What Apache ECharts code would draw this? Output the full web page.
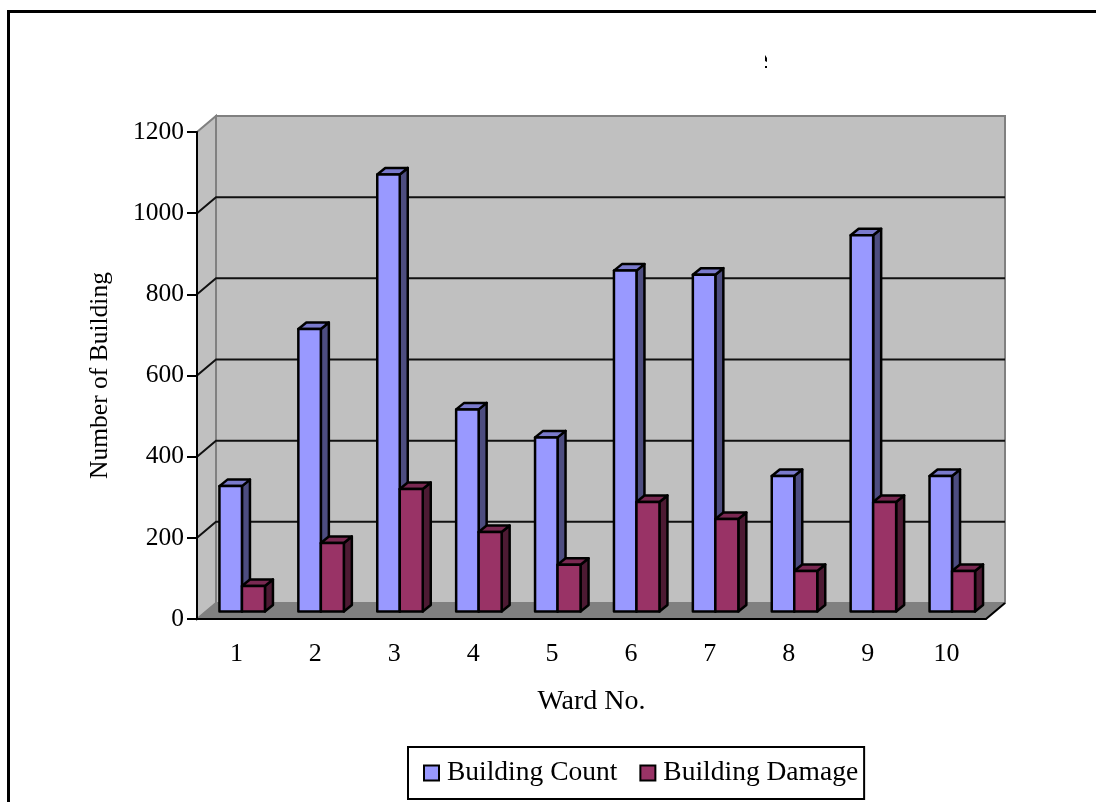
<!DOCTYPE html>
<html>
<head>
<meta charset="utf-8">
<style>
    html, body { margin: 0; padding: 0; background: #fff; }
    #main { width: 1096px; height: 802px; }
</style>
<script src="https://cdn.jsdelivr.net/npm/echarts@6/dist/echarts.min.js"></script>
</head>
<body>
<div id="main"></div>
<script>
var categories = ['1', '2', '3', '4', '5', '6', '7', '8', '9', '10'];
var buildingCount = [309, 696, 1077, 498, 429, 840, 830, 334, 927, 334];
var buildingDamage = [63, 169, 302, 196, 115, 270, 228, 100, 270, 100];
var wallTicks = [200, 400, 600, 800, 1000];

var fontName = '"Liberation Serif", "Times New Roman", serif';
// 墙面纵深
var wallDx = 19;
var wallDy = 16;
// 柱子纵深
var barDx = 8;
var barDy = 6.5;
var barLift = 7.5;

// 画一个立体柱子
function barItem(fromX, toX, front, side, top) {
    return function (params, api) {
        var center = api.coord([api.value(0), 0])[0];
        var base = api.coord([api.value(0), 0])[1] - barLift;
        var head = api.coord([api.value(0), api.value(1)])[1] - barLift;
        var x0 = center + fromX;
        var x1 = center + toX;
        var line = {stroke: '#000', lineWidth: 2.5, lineJoin: 'round'};
        return {
            type: 'group',
            children: [
                {
                    type: 'polygon',
                    shape: {points: [[x1, head], [x1 + barDx, head - barDy], [x1 + barDx, base - barDy], [x1, base]]},
                    style: Object.assign({fill: side}, line)
                },
                {
                    type: 'polygon',
                    shape: {points: [[x0, head], [x0 + barDx, head - barDy], [x1 + barDx, head - barDy], [x1, head]]},
                    style: Object.assign({fill: top}, line)
                },
                {
                    type: 'rect',
                    shape: {x: x0, y: head, width: x1 - x0, height: base - head},
                    style: Object.assign({fill: front}, line)
                }
            ]
        };
    };
}

// 背景墙和底面
function wallItem(params) {
    var g = params.coordSys;
    var right = g.x + g.width;
    var bottom = g.y + g.height;
    var edge = {stroke: '#808080', lineWidth: 2};
    return {
        type: 'group',
        children: [
            {
                type: 'polygon',
                shape: {points: [[g.x, g.y], [g.x + wallDx, g.y - wallDy], [g.x + wallDx, bottom - wallDy], [g.x, bottom]]},
                style: Object.assign({fill: '#c0c0c0'}, edge)
            },
            {
                type: 'rect',
                shape: {x: g.x + wallDx, y: g.y - wallDy, width: g.width, height: g.height},
                style: Object.assign({fill: '#c0c0c0'}, edge)
            },
            {
                type: 'polygon',
                shape: {points: [[g.x, bottom], [g.x + wallDx, bottom - wallDy], [right + wallDx, bottom - wallDy], [right, bottom]]},
                style: {fill: '#808080'}
            },
            {
                type: 'line',
                shape: {x1: right, y1: bottom, x2: right + wallDx, y2: bottom - wallDy},
                style: {stroke: '#000', lineWidth: 2}
            }
        ]
    };
}

// 网格线
function gridItem(params, api) {
    var g = params.coordSys;
    var y = api.coord([0, api.value(0)])[1];
    return {
        type: 'polyline',
        shape: {points: [[g.x, y], [g.x + wallDx, y - wallDy], [g.x + g.width + wallDx, y - wallDy]]},
        style: {fill: 'none', stroke: '#111', lineWidth: 2}
    };
}

var option = {
    animation: false,
    backgroundColor: '#fff',
    textStyle: {fontFamily: fontName, color: '#000'},
    graphic: [
        {
            type: 'polyline',
            shape: {points: [[8.5, 802], [8.5, 11.5], [1096, 11.5]]},
            style: {fill: 'none', stroke: '#000', lineWidth: 3}
        },
        {
            type: 'polygon',
            shape: {points: [[765, 55], [767, 58], [767, 62], [765, 61]]},
            style: {fill: '#000'}
        },
        {
            type: 'rect',
            shape: {x: 765, y: 66, width: 2, height: 2},
            style: {fill: '#000'}
        }
    ],
    grid: {left: 197, right: 110, top: 132, bottom: 183},
    legend: {
        left: 408,
        top: 747,
        padding: [12, 6, 12, 15],
        itemWidth: 15,
        itemHeight: 15,
        itemGap: 22,
        icon: 'rect',
        backgroundColor: '#fff',
        borderColor: '#000',
        borderWidth: 2,
        borderRadius: 0,
        itemStyle: {borderColor: '#000', borderWidth: 2},
        textStyle: {fontFamily: fontName, fontSize: 27.5, color: '#000', padding: [0, 0, 0, 3]},
        data: ['Building Count', 'Building Damage']
    },
    xAxis: {
        type: 'category',
        data: categories,
        z: 5,
        name: 'Ward No.',
        nameLocation: 'middle',
        nameGap: 69,
        nameTextStyle: {fontFamily: fontName, fontSize: 28, color: '#000'},
        axisLine: {lineStyle: {color: '#000', width: 2}},
        axisTick: {length: 7, lineStyle: {color: '#000', width: 2}},
        axisLabel: {fontFamily: fontName, fontSize: 26, color: '#000', margin: 22}
    },
    yAxis: {
        type: 'value',
        min: 0,
        max: 1200,
        interval: 200,
        z: 5,
        name: 'Number of Building',
        nameLocation: 'middle',
        nameGap: 84,
        nameTextStyle: {fontFamily: fontName, fontSize: 25.5, color: '#000'},
        splitLine: {show: false},
        axisLine: {show: true, lineStyle: {color: '#000', width: 2}},
        axisTick: {show: true, length: 10, lineStyle: {color: '#000', width: 2}},
        axisLabel: {
            fontFamily: fontName,
            fontSize: 25.5,
            color: '#000',
            margin: 13,
            formatter: function (v) { return String(v); }
        }
    },
    series: [
        {
            type: 'custom',
            silent: true,
            z: 1,
            data: [0],
            renderItem: wallItem
        },
        {
            type: 'custom',
            silent: true,
            z: 1,
            data: wallTicks,
            encode: {y: 0},
            renderItem: gridItem
        },
        {
            name: 'Building Count',
            type: 'custom',
            z: 2,
            itemStyle: {color: '#9999ff'},
            data: buildingCount.map(function (v, i) { return [i, v]; }),
            encode: {x: 0, y: 1},
            renderItem: barItem(-17, 5.5, '#9999ff', '#4d4d80', '#7a7acc')
        },
        {
            name: 'Building Damage',
            type: 'custom',
            z: 3,
            itemStyle: {color: '#993366'},
            data: buildingDamage.map(function (v, i) { return [i, v]; }),
            encode: {x: 0, y: 1},
            renderItem: barItem(5.5, 28.5, '#993366', '#4d1a33', '#7a2952')
        }
    ]
};

var myChart = echarts.init(document.getElementById('main'));
myChart.setOption(option);
</script>
</body>
</html>
